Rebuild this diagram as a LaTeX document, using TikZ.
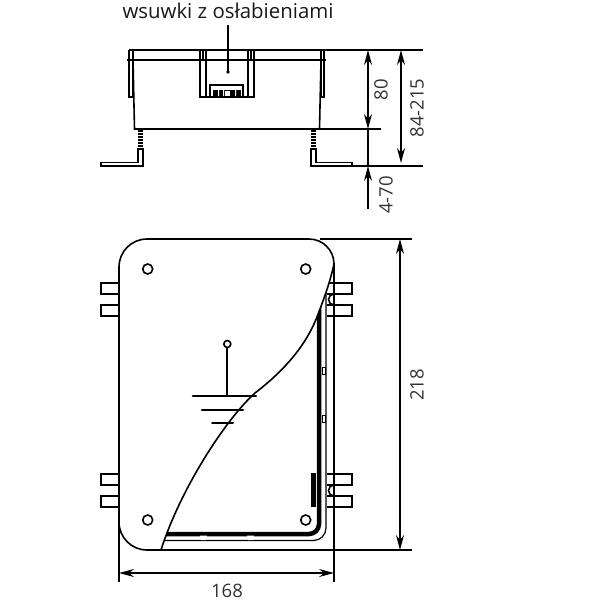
\documentclass[tikz,border=0pt]{standalone}
\usepackage{fontspec}
\setmainfont{Open Sans}
\usetikzlibrary{arrows.meta,positioning}
\tikzset{
    outline/.style={line width=1.6pt,line join=miter},
    thinline/.style={line width=1.2pt},
    thickbar/.style={line width=4.5pt},
    dimline/.style={line width=1.2pt},
    dimarrow/.style={line width=1.2pt,{Stealth[length=15pt,width=8pt]}-{Stealth[length=15pt,width=8pt]}},
    dimarrowup/.style={line width=1.2pt,{Stealth[length=15pt,width=8pt]}-},
    dimtext/.style={font=\fontsize{18.5}{18.5}\selectfont,text=black!80,inner sep=0pt},
    labeltext/.style={font=\fontsize{20.4}{22}\selectfont,text=black!90,inner sep=0pt},
    hole/.style={circle,draw,line width=1.6pt,fill=white,inner sep=0pt,minimum size=10pt},
    tab/.style={outline,fill=white}
}

\begin{document}
\begin{tikzpicture}[x=1pt,y=-1pt]
\useasboundingbox (0,0) rectangle (604,600);

% top view
\coordinate (topA) at (322,50);
\coordinate (topB) at (423,50);
\coordinate (midA) at (319,129);
\coordinate (midB) at (381,129);
\coordinate (lowA) at (352,166);
\coordinate (lowB) at (423,166);
\draw[outline] (129,50) -- (322,50);
\draw[line width=2.8pt] (127,60) -- (326,60);
\draw[outline] (133,60) -- (134.5,129) -- (319.5,129) -- (321,60);
\draw[outline] (129,50) -- (129,97) -- (133,97) -- (133,50);
\draw[outline] (321,50) -- (321,97) -- (324,97) -- (324,50);
\draw[outline] (200,50) -- (200,97) -- (254,97) -- (254,50);
\draw[outline] (203,50) -- (203,60) (206,50) -- (206,97);
\draw[outline] (248,50) -- (248,97) (251,50) -- (251,60);
\draw[outline] (210,97) -- (210,85) -- (243,85) -- (243,97);
\fill (213,90) rectangle (241,96);
\fill[white] (225,91) rectangle (230,96);
\fill[white] (218,90) rectangle (219,96) (223,90) rectangle (224,96) (235,90) rectangle (236,96);

% legs
\draw[line width=5pt,dash pattern=on 2pt off 1pt] (140.5,130) -- (140.5,150);
\draw[line width=5pt,dash pattern=on 2pt off 1pt] (313.5,130) -- (313.5,150);
\draw[outline] (138,148) -- (138,162.5) -- (101,162.5) -- (101,166) -- (143,166) -- (143,148);
\draw[outline] (311,148) -- (311,166) -- (352,166) -- (352,162.5) -- (316,162.5) -- (316,148);

% label and its leader
\node[labeltext] (label) at (228,11) {wsuwki z osłabieniami};
\coordinate (labelend) at (228,72);
\draw[thinline] (228,25) -- (labelend);
\fill (labelend) circle (1.8pt);

% dimensions of the top view
\draw[dimline] (topA) -- (topB);
\draw[dimline] (midA) -- (midB);
\draw[dimline] (lowA) -- (lowB);
\coordinate (dimAa) at (368,50);
\coordinate (dimAb) at (368,129);
\coordinate (dimBa) at (401,50);
\coordinate (dimBb) at (401,163);
\coordinate (dimCa) at (368,166);
\coordinate (dimCb) at (368,209);
\draw[dimarrow] (dimAa) -- (dimAb);
\draw[dimarrow] (dimBa) -- (dimBb);
\draw[dimline] (dimAb) -- (dimCa);
\draw[dimarrowup] (dimCa) -- (dimCb);
\node[dimtext,rotate=90] (dimAtext) at (381,90) {80};
\node[dimtext,rotate=90] (dimBtext) at (417,108) {84-215};
\node[dimtext,rotate=90] (dimCtext) at (386,195) {4-70};

% tabs
\foreach \ypos in {283,305,474,496}{
    \draw[tab] (119,\ypos) -- (101,\ypos) -- (101,\ypos+11) -- (119,\ypos+11);
    \draw[tab] (327,\ypos) -- (352,\ypos) -- (352,\ypos+11) -- (327,\ypos+11);
}
\foreach \ypos in {299.5,490.5}{
    \draw[outline] (334,\ypos-5.5) arc[start angle=270,end angle=90,radius=5.5];
}

% open box under the cover
\draw[outline] (334,263) -- (334,582);
\draw[thinline] (326,280) -- (326,528) arc[start angle=0,end angle=90,radius=12.5] -- (163,540.5);
\draw[thickbar] (319,300) -- (319,524) arc[start angle=0,end angle=90,radius=10] -- (163,534);
\fill (311,473) rectangle (316,507);
\foreach \ypos in {367,415}{
    \fill[white] (322,\ypos) rectangle (325,\ypos+7);
    \draw[line width=.8pt] (322,\ypos) rectangle (325,\ypos+7);
}
\foreach \xpos in {200,247}{
    \fill[white] (\xpos,535.5) -- (\xpos+7,535.5) -- (\xpos+6,540) -- (\xpos+1,540) -- cycle;
}

% cover
\draw[outline,fill=white] (161,550) -- (147,550) arc[start angle=90,end angle=180,radius=28]
    -- (119,267) arc[start angle=180,end angle=270,radius=28]
    -- (309,239) arc[start angle=270,end angle=360,radius=25]
    .. controls (330,282) and (325,296) .. (317,317)
    .. controls (306,345) and (285,370) .. (255,393)
    .. controls (225,420) and (180,490) .. (161,550);

% holes
\node[hole] (holeA) at (147.7,269) {};
\node[hole] (holeB) at (305.7,269) {};
\node[hole] (holeC) at (147.7,520) {};
\node[hole] (holeD) at (305.7,520) {};

% earth mark
\node[circle,draw,line width=1.6pt,inner sep=0pt,minimum size=7pt] (earth) at (227.3,344) {};
\coordinate (earthfoot) at (227.3,396);
\draw[line width=2.2pt] (earth) -- (earthfoot);
\draw[line width=2.6pt,line cap=round] (193,396) -- (256,396);
\draw[line width=2.6pt,line cap=round] (202,410) -- (243,410);
\draw[line width=2pt,line cap=round] (212,423) -- (233,423);

% dimensions of the front view
\coordinate (frontTa) at (320,239);
\coordinate (frontTb) at (412,239);
\coordinate (frontBa) at (161,550);
\coordinate (frontBb) at (412,550);
\coordinate (frontLa) at (119,523);
\coordinate (frontLb) at (119,582);
\draw[dimline] (frontTa) -- (frontTb);
\draw[dimline] (frontBa) -- (frontBb);
\draw[dimline] (frontLa) -- (frontLb);
\coordinate (dimDa) at (400,239);
\coordinate (dimDb) at (400,550);
\coordinate (dimEa) at (119,573);
\coordinate (dimEb) at (334,573);
\draw[dimarrow] (dimDa) -- (dimDb);
\draw[dimarrow] (dimEa) -- (dimEb);
\node[dimtext,rotate=90] (dimDtext) at (417,385) {218};
\node[dimtext] (dimEtext) at (227,590.5) {168};
\end{tikzpicture}
\end{document}
